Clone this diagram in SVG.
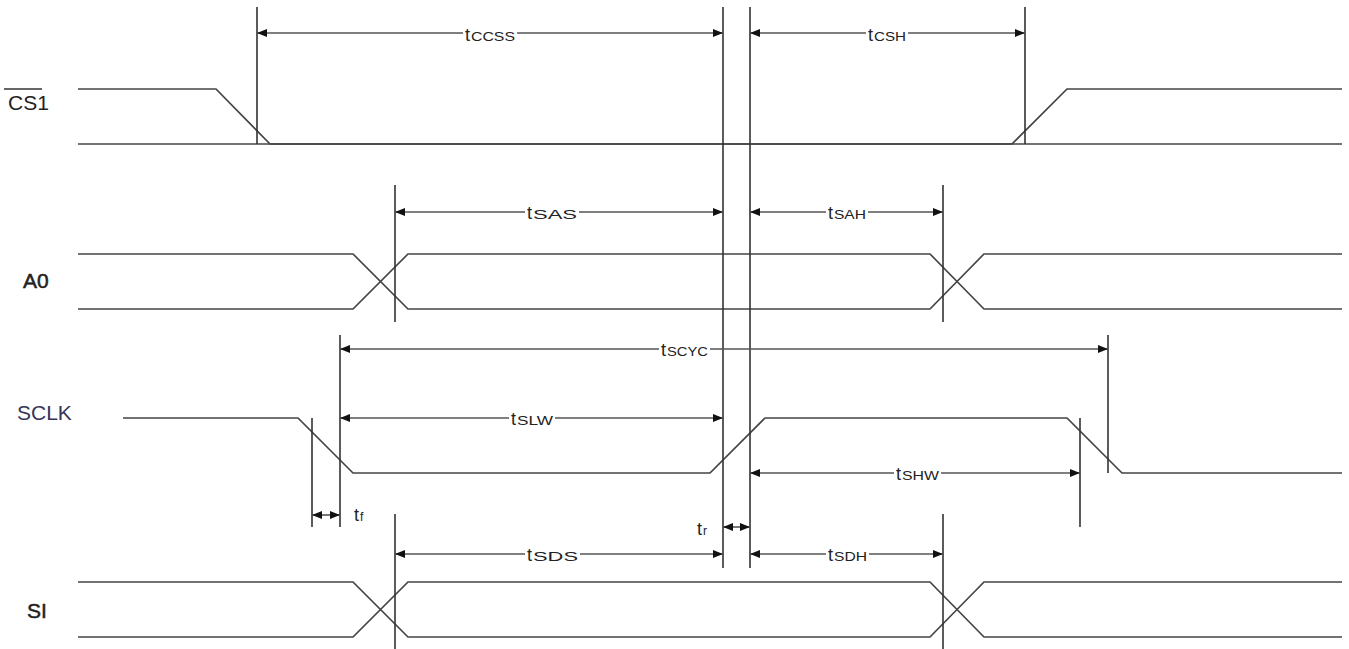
<svg xmlns="http://www.w3.org/2000/svg" width="1349" height="649" viewBox="0 0 1349 649">
<style>
.sig{fill:none;stroke:#444;stroke-width:1.7;stroke-linejoin:miter}
.vl{stroke:#333;stroke-width:1.6}
.dim{stroke:#555;stroke-width:1.6;fill:none}
.lbl{font-family:"Liberation Sans",Arial,sans-serif;fill:#222}
.bd{stroke:#222;stroke-width:0.5}
.t{font-family:"Liberation Sans",Arial,sans-serif;font-size:18px;fill:#222}
.s{font-family:"Liberation Sans",Arial,sans-serif;font-size:12px;fill:#222}
</style>
<defs>
<marker id="ah" markerUnits="userSpaceOnUse" markerWidth="12" markerHeight="10" refX="10" refY="4" orient="auto-start-reverse">
<path d="M0,0 L10,4 L0,8 z" fill="#111"/>
</marker>
</defs>
<rect width="1349" height="649" fill="#fff"/>

<g id="cs1">
<text class="lbl" x="8" y="110" font-size="21">CS1</text>
<line x1="4" y1="89" x2="42" y2="89" stroke="#333" stroke-width="1.5"/>
<line class="sig" x1="78" y1="144" x2="1342" y2="144"/>
<path class="sig" d="M78,89 H216 L270,144 H1012 L1067,89 H1342"/>
</g>

<g id="a0">
<text class="lbl bd" x="23" y="288" font-size="21">A0</text>
<path class="sig" d="M78,254 H353 L408,309 H930 L984,254 H1342"/>
<path class="sig" d="M78,309 H353 L408,254 H930 L984,309 H1342"/>
</g>

<g id="sclk">
<text class="lbl" x="17" y="420" font-size="21" style="fill:#363656">SCLK</text>
<path class="sig" d="M123,418 H298 L353,473 H710 L765,418 H1067 L1122,473 H1342"/>
</g>

<g id="si">
<text class="lbl bd" x="27" y="618" font-size="21">SI</text>
<path class="sig" d="M78,582 H353 L408,637 H930 L984,582 H1342"/>
<path class="sig" d="M78,637 H353 L408,582 H930 L984,637 H1342"/>
</g>

<g id="connectors">
<line class="vl" x1="257" y1="7" x2="257" y2="144"/>
<line class="vl" x1="723" y1="7" x2="723" y2="568"/>
<line class="vl" x1="750" y1="7" x2="750" y2="568"/>
<line class="vl" x1="1025" y1="7" x2="1025" y2="144"/>
<line class="vl" x1="395" y1="185" x2="395" y2="322"/>
<line class="vl" x1="943" y1="185" x2="943" y2="322"/>
<line class="vl" x1="312" y1="418" x2="312" y2="527"/>
<line class="vl" x1="340" y1="335" x2="340" y2="527"/>
<line class="vl" x1="1108" y1="335" x2="1108" y2="473"/>
<line class="vl" x1="1080" y1="418" x2="1080" y2="527"/>
<line class="vl" x1="395" y1="514" x2="395" y2="649"/>
<line class="vl" x1="943" y1="514" x2="943" y2="649"/>

<line class="dim" x1="257" y1="33" x2="463" y2="33" marker-start="url(#ah)"/>
<line class="dim" x1="517" y1="33" x2="723" y2="33" marker-end="url(#ah)"/>
<line class="dim" x1="750" y1="33" x2="866" y2="33" marker-start="url(#ah)"/>
<line class="dim" x1="908" y1="33" x2="1025" y2="33" marker-end="url(#ah)"/>

<line class="dim" x1="395" y1="212" x2="525" y2="212" marker-start="url(#ah)"/>
<line class="dim" x1="579" y1="212" x2="723" y2="212" marker-end="url(#ah)"/>
<line class="dim" x1="750" y1="212" x2="826" y2="212" marker-start="url(#ah)"/>
<line class="dim" x1="868" y1="212" x2="943" y2="212" marker-end="url(#ah)"/>

<line class="dim" x1="340" y1="349" x2="659" y2="349" marker-start="url(#ah)"/>
<line class="dim" x1="710" y1="349" x2="1108" y2="349" marker-end="url(#ah)"/>

<line class="dim" x1="340" y1="418" x2="509" y2="418" marker-start="url(#ah)"/>
<line class="dim" x1="555" y1="418" x2="723" y2="418" marker-end="url(#ah)"/>

<line class="dim" x1="750" y1="473" x2="894" y2="473" marker-start="url(#ah)"/>
<line class="dim" x1="941" y1="473" x2="1080" y2="473" marker-end="url(#ah)"/>

<line class="dim" x1="312" y1="515" x2="340" y2="515" marker-start="url(#ah)" marker-end="url(#ah)"/>
<line class="dim" x1="723" y1="527" x2="750" y2="527" marker-start="url(#ah)" marker-end="url(#ah)"/>

<line class="dim" x1="395" y1="554" x2="525" y2="554" marker-start="url(#ah)"/>
<line class="dim" x1="580" y1="554" x2="723" y2="554" marker-end="url(#ah)"/>
<line class="dim" x1="750" y1="554" x2="826" y2="554" marker-start="url(#ah)"/>
<line class="dim" x1="869" y1="554" x2="943" y2="554" marker-end="url(#ah)"/>
</g>

<g id="labels">
<text class="t" x="465" y="41">t</text><text class="s" x="471" y="41" textLength="44" lengthAdjust="spacingAndGlyphs">CCSS</text>
<text class="t" x="868" y="41">t</text><text class="s" x="874" y="41" textLength="32" lengthAdjust="spacingAndGlyphs">CSH</text>
<text class="t" x="527" y="219">t</text><text class="s" x="533" y="219" textLength="44" lengthAdjust="spacingAndGlyphs">SAS</text>
<text class="t" x="828" y="219">t</text><text class="s" x="834" y="219" textLength="32" lengthAdjust="spacingAndGlyphs">SAH</text>
<text class="t" x="661" y="356">t</text><text class="s" x="667" y="356" textLength="41" lengthAdjust="spacingAndGlyphs">SCYC</text>
<text class="t" x="511" y="425">t</text><text class="s" x="517" y="425" textLength="36" lengthAdjust="spacingAndGlyphs">SLW</text>
<text class="t" x="896" y="480">t</text><text class="s" x="902" y="480" textLength="37" lengthAdjust="spacingAndGlyphs">SHW</text>
<text class="t" x="527" y="561">t</text><text class="s" x="533" y="561" textLength="45" lengthAdjust="spacingAndGlyphs">SDS</text>
<text class="t" x="828" y="561">t</text><text class="s" x="834" y="561" textLength="33" lengthAdjust="spacingAndGlyphs">SDH</text>
<text class="t" x="354" y="521">t</text><text class="s" x="360" y="521">f</text>
<text class="t" x="697" y="535">t</text><text class="s" x="703" y="535">r</text>
</g>
</svg>
